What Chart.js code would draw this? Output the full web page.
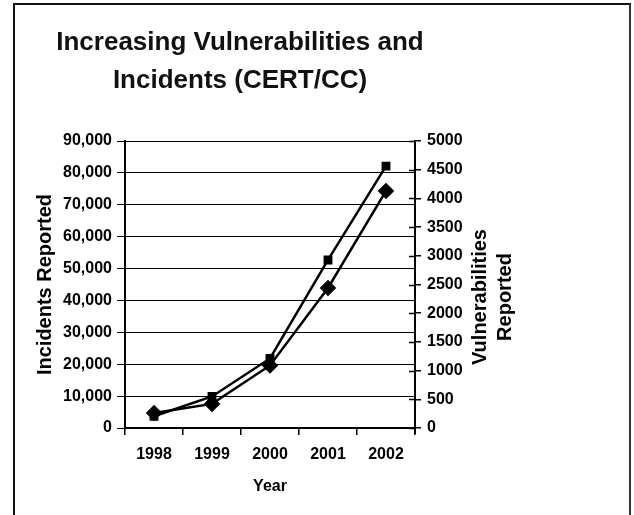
<!DOCTYPE html>
<html>
<head>
<meta charset="utf-8">
<script src="https://cdn.jsdelivr.net/npm/chart.js@4/dist/chart.umd.min.js"></script>
<style>
  body { margin: 0; background: #fff; }
  #wrap { position: relative; width: 634px; height: 515px; overflow: hidden; }
  #frame {
    position: absolute; left: 13px; top: 3px; width: 614px; height: 600px;
    border: 2px solid #111; border-right-color: #333; border-bottom: none;
    pointer-events: none;
  }
  canvas { position: absolute; left: 0; top: 0; }
</style>
</head>
<body>
<div id="wrap">
  <canvas id="certChart" width="634" height="515"></canvas>
  <div id="frame"></div>
</div>
<script>
// Donnees
const years = ['1998', '1999', '2000', '2001', '2002'];
const incidents = [3700, 9900, 21800, 52700, 82100];
const vulnerabilities = [260, 420, 1090, 2440, 4130];
const titleLines = ['Increasing Vulnerabilities and', 'Incidents (CERT/CC)'];
const rightTitleLines = ['Vulnerabilities', 'Reported'];

const FONT = '"Liberation Sans", Arial, sans-serif';
Chart.defaults.font.family = FONT;
Chart.defaults.color = '#000';

// petits traits interieurs de l'axe droit + titre droit (lu de bas en haut)
const rightAxisExtras = {
    id: 'rightAxisExtras',
    afterDraw(chart) {
        const ctx = chart.ctx;
        const s = chart.scales.y1;
        ctx.save();
        ctx.strokeStyle = '#000';
        ctx.lineWidth = 1.5;
        s.ticks.forEach((t, i) => {
            const y = Math.round(s.getPixelForTick(i)) + 0.5;
            ctx.beginPath();
            ctx.moveTo(s.left - 6, y);
            ctx.lineTo(s.left, y);
            ctx.stroke();
        });
        // l'axe droit descend un peu sous l'axe des x
        ctx.lineWidth = 2;
        ctx.beginPath();
        ctx.moveTo(s.left, s.bottom);
        ctx.lineTo(s.left, s.bottom + 6);
        ctx.stroke();
        ctx.translate(s.left + 78, 297);
        ctx.rotate(-Math.PI / 2);
        ctx.font = 'bold 20px ' + FONT;
        ctx.fillStyle = '#000';
        ctx.textAlign = 'center';
        ctx.textBaseline = 'middle';
        rightTitleLines.forEach((line, i) => {
            ctx.fillText(line, 0, (i - 0.5) * 25);
        });
        ctx.restore();
    }
};

new Chart(document.getElementById('certChart').getContext('2d'), {
    type: 'line',
    data: {
        labels: years,
        datasets: [{
            label: 'Incidents',
            data: incidents,
            yAxisID: 'y',
            borderColor: '#000',
            backgroundColor: '#000',
            borderWidth: 2.5,
            pointStyle: 'rect',
            pointRadius: 4.5,
            tension: 0
        }, {
            label: 'Vulnerabilities',
            data: vulnerabilities,
            yAxisID: 'y1',
            borderColor: '#000',
            backgroundColor: '#000',
            borderWidth: 2.5,
            pointStyle: 'rectRot',
            pointRadius: 6.5,
            tension: 0
        }]
    },
    options: {
        responsive: false,
        animation: false,
        devicePixelRatio: 1,
        layout: { padding: { left: 0, right: 154, top: 0, bottom: 0 } },
        plugins: {
            legend: { display: false },
            tooltip: { enabled: false },
            title: {
                display: true,
                text: titleLines,
                color: '#111',
                font: { size: 26, weight: 'bold', lineHeight: '38px' },
                padding: { top: 24, bottom: 41 }
            }
        },
        scales: {
            x: {
                offset: true,
                afterFit: s => { s.height = 87; },
                grid: {
                    offset: true,
                    drawOnChartArea: false,
                    drawTicks: true,
                    tickLength: 7,
                    color: '#000',
                    lineWidth: 1.5
                },
                border: { color: '#000', width: 2 },
                ticks: { font: { size: 16, weight: 'bold' }, padding: 10 },
                title: {
                    display: true,
                    text: 'Year',
                    font: { size: 16, weight: 'bold' },
                    padding: { top: 0, bottom: 19 }
                }
            },
            y: {
                position: 'left',
                min: 0,
                max: 90000,
                afterFit: s => { s.width = 125; },
                grid: { color: '#000', lineWidth: 1, tickLength: 8 },
                border: { color: '#000', width: 2 },
                ticks: {
                    stepSize: 10000,
                    padding: 5,
                    font: { size: 16, weight: 'bold' },
                    callback: v => v.toLocaleString('en-US')
                },
                title: {
                    display: true,
                    text: 'Incidents Reported',
                    font: { size: 20, weight: 'bold' },
                    padding: { top: 33, bottom: 0 }
                }
            },
            y1: {
                position: 'right',
                min: 0,
                max: 5000,
                afterFit: s => { s.width = 65; },
                grid: { drawOnChartArea: false, color: '#000', lineWidth: 1.5, tickLength: 6 },
                border: { color: '#000', width: 2 },
                ticks: {
                    stepSize: 500,
                    padding: 6,
                    font: { size: 16, weight: 'bold' },
                    callback: v => String(v)
                }
            }
        }
    },
    plugins: [rightAxisExtras]
});
</script>
</body>
</html>
